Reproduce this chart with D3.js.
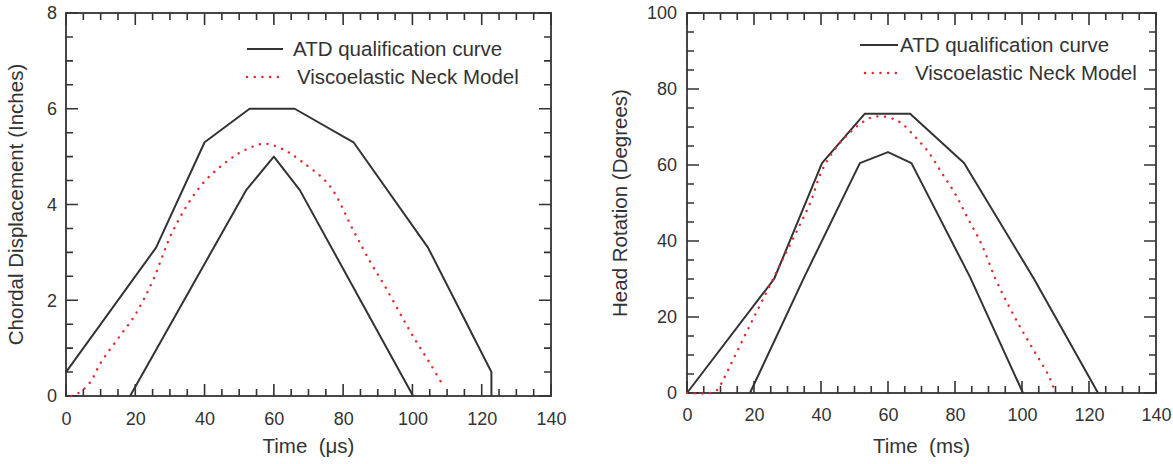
<!DOCTYPE html>
<html lang="en">
<head>
<meta charset="UTF-8" />
<title>ATD qualification curve vs Viscoelastic Neck Model</title>
<script src="https://d3js.org/d3.v7.min.js"></script>
<style>
  body { margin: 0; background: #fff; font-family: "Liberation Sans", Arial, sans-serif; }
  svg { display: block; }
  .frame { fill: none; stroke: #333; stroke-width: 1.8px; }
  .ticks { fill: none; stroke: #333; stroke-width: 1.6px; }
  .atd { fill: none; stroke: #333; stroke-width: 2px; stroke-linejoin: round; }
  .model { fill: none; stroke: #e8262f; stroke-width: 2.4px; stroke-dasharray: 0.1 7.6; stroke-linecap: round; }
  .title { font-size: 20.5px; fill: #333; }
  .legend text { font-size: 20.5px; fill: #333; }
</style>
</head>
<body>
<svg width="1173" height="464"></svg>
<script>
// ticks
const timeMajor = [0, 20, 40, 60, 80, 100, 120, 140];
const timeMinor = d3.range(5, 140, 5).filter(v => v % 20 !== 0);
const chordMajor = [0, 2, 4, 6, 8];
const chordMinor = d3.range(0.5, 8, 0.5).filter(v => v % 2 !== 0);
const headMajor = [0, 20, 40, 60, 80, 100];
const headMinor = d3.range(5, 100, 5).filter(v => v % 20 !== 0);

const legendNames = ["ATD qualification curve", "Viscoelastic Neck Model"];

// left panel: chordal displacement (inches) vs time
const chordUpperT = [0, 26, 40, 53, 66, 83, 104.5, 122.8, 122.8];
const chordUpperV = [0.5, 3.1, 5.3, 6.0, 6.0, 5.3, 3.1, 0.5, 0];
const chordLowerT = [18.5, 52, 60, 67.5, 100.2];
const chordLowerV = [0, 4.3, 5.0, 4.3, 0];
const chordModelT = [1.5, 4, 7, 10, 15, 20, 25, 31, 39, 47, 52, 57.4, 63, 68, 76, 83, 88, 92, 97, 101, 105, 109];
const chordModelV = [0, 0.08, 0.29, 0.69, 1.2, 1.7, 2.4, 3.47, 4.4, 4.93, 5.15, 5.27, 5.14, 4.9, 4.4, 3.45, 2.78, 2.3, 1.65, 1.15, 0.69, 0.2];

// right panel: head rotation (degrees) vs time
const headUpperT = [0, 26, 40.3, 53.1, 66.6, 82.7, 103.6, 122.7];
const headUpperV = [0, 30, 60.5, 73.5, 73.5, 60.5, 30, 0];
const headLowerT = [18.8, 35, 51.6, 60, 67, 84.5, 100.3];
const headLowerV = [0, 30.5, 60.5, 63.4, 60.5, 30.5, 0];
const headModelT = [0, 7, 9, 11, 14, 19, 24, 28, 33, 37, 40, 44, 48, 52, 55, 58, 61, 64, 68, 72, 76, 80, 84, 88, 92, 96, 100, 104, 108, 110];
const headModelV = [0, 0, 0.8, 3.8, 9.2, 18.2, 27, 34.2, 43, 50.5, 58, 64, 68, 71, 72.5, 72.8, 72.3, 71, 67.5, 63.5, 58, 52.5, 45.7, 39, 30.2, 23, 16.5, 10.5, 4.5, 0];

const svg = d3.select("svg");

// axis used only for the labels
function styleAxis(a) {
  a.select(".domain").remove();
  a.selectAll(".tick line").remove();
  a.selectAll(".tick text")
    .attr("fill", "#333")
    .attr("font-size", 18)
    .attr("font-family", "Liberation Sans, Arial, sans-serif");
}

// inward tick marks on one side, as a single path
function tickPath(vals, scale, len, side, pos) {
  const pth = d3.path();
  vals.forEach(v => {
    const c = scale(v);
    if (side === "bottom") { pth.moveTo(c, pos); pth.lineTo(c, pos - len); }
    if (side === "top") { pth.moveTo(c, pos); pth.lineTo(c, pos + len); }
    if (side === "left") { pth.moveTo(pos, c); pth.lineTo(pos + len, c); }
    if (side === "right") { pth.moveTo(pos, c); pth.lineTo(pos - len, c); }
  });
  return pth.toString();
}

function drawPanel(p) {
  const x = d3.scaleLinear().domain([0, 140]).range([p.left, p.right]);
  const y = d3.scaleLinear().domain([0, p.yMax]).range([p.bottom, p.top]);
  const g = svg.append("g");

  g.append("g").attr("transform", `translate(0,${p.bottom})`)
    .call(d3.axisBottom(x).tickValues(timeMajor).tickSize(0).tickPadding(p.xPad))
    .call(styleAxis);
  g.append("g").attr("transform", `translate(${p.left},0)`)
    .call(d3.axisLeft(y).tickValues(p.yMajor).tickSize(0).tickPadding(p.yPad))
    .call(styleAxis);

  const ticks = [
    [timeMajor, x, 12, "bottom", p.bottom], [timeMinor, x, 7, "bottom", p.bottom],
    [timeMajor, x, 12, "top", p.top], [timeMinor, x, 7, "top", p.top],
    [p.yMajor, y, 12, "left", p.left], [p.yMinor, y, 7, "left", p.left],
    [p.yMajor, y, 12, "right", p.right], [p.yMinor, y, 7, "right", p.right]
  ];
  g.append("path").attr("class", "ticks")
    .attr("d", ticks.map(t => tickPath(...t)).join(""));

  g.append("rect").attr("class", "frame")
    .attr("x", p.left).attr("y", p.top)
    .attr("width", p.right - p.left).attr("height", p.bottom - p.top);

  const line = d3.line().x(d => x(d[0])).y(d => y(d[1]));
  const smooth = d3.line().x(d => x(d[0])).y(d => y(d[1])).curve(d3.curveCatmullRom.alpha(0.5));

  g.append("path").attr("class", "atd").attr("d", line(d3.zip(p.upperT, p.upperV)));
  g.append("path").attr("class", "atd").attr("d", line(d3.zip(p.lowerT, p.lowerV)));
  g.append("path").attr("class", "model").attr("d", smooth(d3.zip(p.modelT, p.modelV)));

  // axis titles
  g.append("text").attr("class", "title")
    .attr("transform", `translate(${p.yTitleX},${(p.top + p.bottom) / 2}) rotate(-90)`)
    .attr("text-anchor", "middle").attr("dy", "0.35em")
    .text(p.yTitle);
  g.append("text").attr("class", "title")
    .attr("x", (p.left + p.right) / 2).attr("y", 453)
    .attr("text-anchor", "middle")
    .text(p.xTitle);

  // legend
  const lg = g.append("g").attr("class", "legend");
  p.legend.forEach((l, i) => {
    lg.append("line").attr("class", i === 0 ? "atd" : "model")
      .attr("x1", l.x1).attr("x2", l.x2).attr("y1", l.y).attr("y2", l.y);
    lg.append("text").attr("x", l.tx).attr("y", l.y + 7).text(legendNames[i]);
  });
}

drawPanel({
  left: 66, right: 551, top: 13, bottom: 396, yMax: 8,
  yMajor: chordMajor, yMinor: chordMinor, xPad: 16, yPad: 9,
  upperT: chordUpperT, upperV: chordUpperV,
  lowerT: chordLowerT, lowerV: chordLowerV,
  modelT: chordModelT, modelV: chordModelV,
  yTitle: "Chordal Displacement (Inches)", yTitleX: 16,
  xTitle: "Time\u00a0 (\u03bcs)",
  legend: [
    { x1: 247, x2: 283, y: 49, tx: 293 },
    { x1: 247, x2: 285, y: 77, tx: 297 }
  ]
});

drawPanel({
  left: 687, right: 1156, top: 13, bottom: 393, yMax: 100,
  yMajor: headMajor, yMinor: headMinor, xPad: 15, yPad: 10,
  upperT: headUpperT, upperV: headUpperV,
  lowerT: headLowerT, lowerV: headLowerV,
  modelT: headModelT, modelV: headModelV,
  yTitle: "Head Rotation (Degrees)", yTitleX: 620,
  xTitle: "Time\u00a0 (ms)",
  legend: [
    { x1: 860, x2: 898, y: 45, tx: 900 },
    { x1: 865, x2: 902, y: 73, tx: 915 }
  ]
});
</script>
</body>
</html>
